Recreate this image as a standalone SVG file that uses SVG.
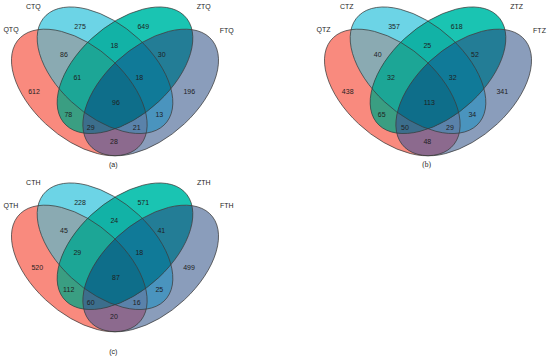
<svg xmlns="http://www.w3.org/2000/svg" xmlns:xlink="http://www.w3.org/1999/xlink" width="550" height="356" viewBox="0 0 550 356">
<style>
.t{font-family:"Liberation Sans",Arial,sans-serif;font-size:7px;fill:#1e1e1e;text-anchor:middle}
.s{font-family:"Liberation Serif","Times New Roman",serif;font-size:7.5px;fill:#1e1e1e;text-anchor:middle}
.o{fill:none;stroke:#3c3c3c;stroke-width:0.9;stroke-opacity:0.85}
</style>
<defs>
<ellipse id="eA" cx="0.35" cy="0.47" rx="0.35" ry="0.2" transform="rotate(-45 0.35 0.47)" vector-effect="non-scaling-stroke"/>
<ellipse id="eB" cx="0.458" cy="0.57" rx="0.35" ry="0.2" transform="rotate(-45 0.458 0.57)" vector-effect="non-scaling-stroke"/>
<ellipse id="eC" cx="0.542" cy="0.57" rx="0.35" ry="0.2" transform="rotate(45 0.542 0.57)" vector-effect="non-scaling-stroke"/>
<ellipse id="eD" cx="0.65" cy="0.47" rx="0.35" ry="0.2" transform="rotate(45 0.65 0.47)" vector-effect="non-scaling-stroke"/>
<clipPath id="kA"><use href="#eA"/></clipPath>
<clipPath id="kB"><use href="#eB"/></clipPath>
<clipPath id="kC"><use href="#eC"/></clipPath>
<g id="venn" transform="matrix(238 0 0 -222 -4 196.8)">
  <use href="#eA" fill="#F98A7E"/>
  <use href="#eB" fill="#6CD4E6"/>
  <use href="#eC" fill="#1AC4B2"/>
  <use href="#eD" fill="#8A9DBB"/>
  <g clip-path="url(#kA)"><use href="#eB" fill="#8AAAB2"/></g>
  <g clip-path="url(#kA)"><use href="#eC" fill="#3A9E82"/></g>
  <g clip-path="url(#kA)"><use href="#eD" fill="#8C6A8E"/></g>
  <g clip-path="url(#kB)"><use href="#eC" fill="#12B2A6"/></g>
  <g clip-path="url(#kB)"><use href="#eD" fill="#4A94BE"/></g>
  <g clip-path="url(#kC)"><use href="#eD" fill="#237D96"/></g>
  <g clip-path="url(#kA)"><g clip-path="url(#kB)"><use href="#eC" fill="#1CA696"/></g></g>
  <g clip-path="url(#kA)"><g clip-path="url(#kB)"><use href="#eD" fill="#5A82AA"/></g></g>
  <g clip-path="url(#kA)"><g clip-path="url(#kC)"><use href="#eD" fill="#3C6E8C"/></g></g>
  <g clip-path="url(#kB)"><g clip-path="url(#kC)"><use href="#eD" fill="#107A98"/></g></g>
  <g clip-path="url(#kA)"><g clip-path="url(#kB)"><g clip-path="url(#kC)"><use href="#eD" fill="#0E6E8A"/></g></g></g>
  <use href="#eA" class="o"/>
  <use href="#eB" class="o"/>
  <use href="#eC" class="o"/>
  <use href="#eD" class="o"/>
</g>
</defs>

<g id="diagram-a">
  <use id="sets-a" href="#venn"/>
  <g id="labels-a">
    <text class="t" x="11" y="32.3">QTQ</text>
    <text class="t" x="33.3" y="9.3">CTQ</text>
    <text class="t" x="203.7" y="9">ZTQ</text>
    <text class="t" x="226.7" y="32.5">FTQ</text>
  </g>
  <g id="counts-a">
    <text class="t" x="80" y="29.2">275</text>
    <text class="t" x="143.3" y="29.2">649</text>
    <text class="t" x="64" y="56.8">86</text>
    <text class="t" x="114.3" y="47.5">18</text>
    <text class="t" x="161.7" y="56.8">30</text>
    <text class="t" x="77.3" y="80.2">61</text>
    <text class="t" x="139.3" y="79.8">18</text>
    <text class="t" x="34" y="93.5">612</text>
    <text class="t" x="189.3" y="94.2">196</text>
    <text class="t" x="116" y="104.7">96</text>
    <text class="t" x="68.3" y="116.5">78</text>
    <text class="t" x="159.3" y="116.5">13</text>
    <text class="t" x="90.7" y="130.2">29</text>
    <text class="t" x="136.7" y="130.2">21</text>
    <text class="t" x="114" y="143.8">28</text>
  </g>
  <text class="t" x="113.3" y="166.6">(a)</text>
</g>

<g id="diagram-b">
  <use id="sets-b" href="#venn" x="313"/>
  <g id="labels-b">
    <text class="t" x="323.5" y="32.3">QTZ</text>
    <text class="t" x="346.7" y="9.3">CTZ</text>
    <text class="t" x="516.7" y="9">ZTZ</text>
    <text class="t" x="539.5" y="32.5">FTZ</text>
  </g>
  <g id="counts-b">
    <text class="t" x="394" y="29.2">357</text>
    <text class="t" x="456.7" y="29.2">618</text>
    <text class="t" x="377.7" y="56.8">40</text>
    <text class="t" x="427.3" y="47.5">25</text>
    <text class="t" x="475" y="56.8">52</text>
    <text class="t" x="391" y="80.2">32</text>
    <text class="t" x="452.7" y="80.2">32</text>
    <text class="t" x="347.7" y="93.5">438</text>
    <text class="t" x="502.3" y="93.5">341</text>
    <text class="t" x="429.3" y="104.8">113</text>
    <text class="t" x="381.7" y="116.5">65</text>
    <text class="t" x="472.3" y="116.5">34</text>
    <text class="t" x="405" y="130.2">50</text>
    <text class="t" x="450" y="130.2">29</text>
    <text class="t" x="427.3" y="144.2">48</text>
  </g>
  <text class="s" x="426.7" y="166.8">(b)</text>
</g>

<g id="diagram-c">
  <use id="sets-c" href="#venn" y="176"/>
  <g id="labels-c">
    <text class="t" x="11" y="207.5">QTH</text>
    <text class="t" x="33.3" y="185.2">CTH</text>
    <text class="t" x="203.7" y="185.2">ZTH</text>
    <text class="t" x="226.7" y="207.5">FTH</text>
  </g>
  <g id="counts-c">
    <text class="t" x="80" y="204.8">228</text>
    <text class="t" x="143.3" y="204.8">571</text>
    <text class="t" x="64" y="232.5">45</text>
    <text class="t" x="114.3" y="223.2">24</text>
    <text class="t" x="161.3" y="232.5">41</text>
    <text class="t" x="77.3" y="255.2">29</text>
    <text class="t" x="139.3" y="255.2">18</text>
    <text class="t" x="37.3" y="269.8">520</text>
    <text class="t" x="189" y="269.8">499</text>
    <text class="t" x="116" y="280.2">87</text>
    <text class="t" x="68.7" y="291.5">112</text>
    <text class="t" x="159.3" y="291.5">25</text>
    <text class="t" x="90.7" y="305.2">60</text>
    <text class="t" x="136.7" y="305.2">16</text>
    <text class="t" x="114" y="319.2">20</text>
  </g>
  <text class="t" x="113.3" y="354">(c)</text>
</g>
</svg>
